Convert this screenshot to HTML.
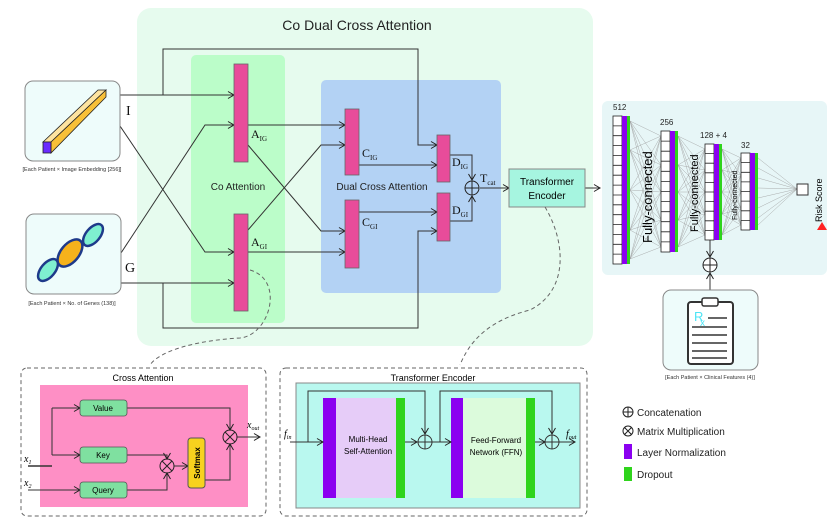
<!DOCTYPE html>
<html><head><meta charset="utf-8"><style>
html,body{margin:0;padding:0;background:#fff}
svg{display:block;font-family:"Liberation Sans",sans-serif}
</style></head><body>
<svg width="830" height="523" viewBox="0 0 830 523" xmlns="http://www.w3.org/2000/svg">
<defs>
<marker id="a" markerWidth="8" markerHeight="8" refX="7" refY="4" orient="auto" markerUnits="userSpaceOnUse"><path d="M1,0.5 L7,4 L1,7.5" fill="none" stroke="#222" stroke-width="1"/></marker>
</defs>
<rect x="137" y="8" width="456" height="338" rx="14" fill="#e6fbee"/>
<text x="357" y="30" font-size="14" text-anchor="middle" fill="#222">Co Dual Cross Attention</text>
<rect x="191" y="55" width="94" height="268" rx="5" fill="#bbfdc9"/>
<rect x="321" y="80" width="180" height="213" rx="5" fill="#b3d2f4"/>
<text x="238" y="190" font-size="10" text-anchor="middle" fill="#222">Co Attention</text>
<text x="382" y="190" font-size="10" text-anchor="middle" fill="#222">Dual Cross Attention</text>
<g fill="none" stroke="#333" stroke-width="1">
<path d="M163 95 V49 H418 V145 H437" marker-end="url(#a)"/>
<path d="M120 95 H234" marker-end="url(#a)"/>
<path d="M120 126 L205 252 H234" marker-end="url(#a)"/>
<path d="M121 253 L205 125 H234" marker-end="url(#a)"/>
<path d="M121 283 H234" marker-end="url(#a)"/>
<path d="M163 283 V328 H418 V231 H437" marker-end="url(#a)"/>
<path d="M248 125 H345" marker-end="url(#a)"/>
<path d="M248 145 L321 231 H345" marker-end="url(#a)"/>
<path d="M248 230 L321 145 H345" marker-end="url(#a)"/>
<path d="M248 252 H345" marker-end="url(#a)"/>
<path d="M359 165 H437" marker-end="url(#a)"/>
<path d="M359 212 H437" marker-end="url(#a)"/>
<path d="M450 155 H472 V180" marker-end="url(#a)"/>
<path d="M450 221 H472 V196" marker-end="url(#a)"/>
<path d="M480 188 H509" marker-end="url(#a)"/>
<path d="M585 188 H600" marker-end="url(#a)"/>
</g>
<g fill="#e84c9a" stroke="#666" stroke-width="0.8">
<rect x="234" y="64" width="14" height="98"/><rect x="234" y="214" width="14" height="97"/>
<rect x="345" y="109" width="14" height="66"/><rect x="345" y="200" width="14" height="68"/>
<rect x="437" y="135" width="13" height="47"/><rect x="437" y="193" width="13" height="48"/>
</g>
<g font-family="Liberation Serif,serif" font-size="12" fill="#111">
<text x="251" y="138">A<tspan font-size="7" dy="3">IG</tspan></text>
<text x="251" y="246">A<tspan font-size="7" dy="3">GI</tspan></text>
<text x="362" y="157">C<tspan font-size="7" dy="3">IG</tspan></text>
<text x="362" y="226">C<tspan font-size="7" dy="3">GI</tspan></text>
<text x="452" y="166">D<tspan font-size="7" dy="3">IG</tspan></text>
<text x="452" y="214">D<tspan font-size="7" dy="3">GI</tspan></text>
<text x="480" y="182">T<tspan font-size="7" dy="3">cat</tspan></text>
<text x="126" y="115" font-size="14">I</text>
<text x="125" y="272" font-size="14">G</text>
</g>
<circle cx="472" cy="188" r="7" fill="none" stroke="#222"/><path d="M465 188H479M472 181V195" stroke="#222"/>
<rect x="509" y="169" width="76" height="38" fill="#a6f5e0" stroke="#888"/>
<text x="547" y="185" font-size="10" text-anchor="middle">Transformer</text>
<text x="547" y="199" font-size="10" text-anchor="middle">Encoder</text>
<rect x="25" y="81" width="95" height="80" rx="8" fill="#eefcfb" stroke="#888"/>
<polygon points="43,142 98,90 106,90 51,142" fill="#fde3a0" stroke="#222" stroke-width="0.8"/>
<polygon points="51,142 106,90 106,97 51,153" fill="#f8c038" stroke="#222" stroke-width="0.8"/>
<rect x="43" y="142" width="8" height="11" fill="#6a2bff" stroke="#222" stroke-width="0.8"/>
<text x="72" y="171" font-size="5.5" text-anchor="middle" fill="#333">[Each Patient × Image Embedding [256]]</text>
<rect x="26" y="214" width="95" height="80" rx="8" fill="#eefcfb" stroke="#888"/>
<ellipse cx="70" cy="253" rx="9" ry="16" transform="rotate(40 70 253)" fill="#f6b21b" stroke="#1e3a8a" stroke-width="2.5"/>
<ellipse cx="48" cy="270" rx="7" ry="13" transform="rotate(40 48 270)" fill="#7ff0d0" stroke="#1e3a8a" stroke-width="2.5"/>
<ellipse cx="93" cy="235" rx="7" ry="13" transform="rotate(40 93 235)" fill="#7ff0d0" stroke="#1e3a8a" stroke-width="2.5"/>
<text x="72" y="305" font-size="5.5" text-anchor="middle" fill="#333">[Each Patient × No. of Genes (138)]</text>
<path d="M250 270 C285 280,270 335,240 338 C200 340,160 350,150 365" fill="none" stroke="#666" stroke-dasharray="4,3"/>
<path d="M545 207 C565 240,570 290,530 310 C490 320,470 340,460 365" fill="none" stroke="#666" stroke-dasharray="4,3"/>
<!-- right panel -->
<rect x="602" y="101" width="225" height="174" rx="6" fill="#e7f6f7"/>
<g fill="none" stroke="#333" stroke-width="1">
<path d="M710 240 V257" marker-end="url(#a)"/>
<path d="M710 298 V273" marker-end="url(#a)"/>
</g>
<g stroke="#999" stroke-width="0.4" fill="none">
<path d="M630 121L661 136M630 121L661 165M630 121L661 192M630 121L661 220M630 121L661 247M630 150L661 136M630 150L661 165M630 150L661 192M630 150L661 220M630 150L661 247M630 190L661 136M630 190L661 165M630 190L661 192M630 190L661 220M630 190L661 247M630 230L661 136M630 230L661 165M630 230L661 192M630 230L661 220M630 230L661 247M630 259L661 136M630 259L661 165M630 259L661 192M630 259L661 220M630 259L661 247"/>
<path d="M678 136L705 149M678 136L705 170M678 136L705 192M678 136L705 214M678 136L705 235M678 165L705 149M678 165L705 170M678 165L705 192M678 165L705 214M678 165L705 235M678 192L705 149M678 192L705 170M678 192L705 192M678 192L705 214M678 192L705 235M678 220L705 149M678 220L705 170M678 220L705 192M678 220L705 214M678 220L705 235M678 247L705 149M678 247L705 170M678 247L705 192M678 247L705 214M678 247L705 235"/>
<path d="M722 149L741 158M722 149L741 175M722 149L741 192M722 149L741 209M722 149L741 225M722 170L741 158M722 170L741 175M722 170L741 192M722 170L741 209M722 170L741 225M722 192L741 158M722 192L741 175M722 192L741 192M722 192L741 209M722 192L741 225M722 214L741 158M722 214L741 175M722 214L741 192M722 214L741 209M722 214L741 225M722 235L741 158M722 235L741 175M722 235L741 192M722 235L741 209M722 235L741 225"/>
<path d="M758 158L797 189M758 168L797 189M758 178L797 189M758 188L797 189M758 198L797 189M758 208L797 189M758 218L797 189M758 225L797 189"/>
</g>
<g stroke="#222" stroke-width="0.8">
<rect x="613" y="116" width="9" height="148" fill="#fff"/>
<path d="M613 125.9h9M613 135.7h9M613 145.6h9M613 155.5h9M613 165.3h9M613 175.2h9M613 185.1h9M613 195h9M613 204.8h9M613 214.7h9M613 224.5h9M613 234.4h9M613 244.3h9M613 254.1h9"/>
<rect x="661" y="131" width="9" height="121" fill="#fff"/>
<path d="M661 141.1h9M661 151.2h9M661 161.2h9M661 171.3h9M661 181.4h9M661 191.5h9M661 201.6h9M661 211.7h9M661 221.7h9M661 231.8h9M661 241.9h9"/>
<rect x="705" y="144" width="9" height="96" fill="#fff"/>
<path d="M705 153.6h9M705 163.2h9M705 172.8h9M705 182.4h9M705 192h9M705 201.6h9M705 211.2h9M705 220.8h9M705 230.4h9"/>
<rect x="741" y="153" width="9" height="77" fill="#fff"/>
<path d="M741 162.6h9M741 172.3h9M741 181.9h9M741 191.5h9M741 201.1h9M741 210.8h9M741 220.4h9"/>
</g>
<g fill="#8b00f0"><rect x="622" y="116" width="5" height="148"/><rect x="670" y="131" width="5" height="121"/><rect x="714" y="144" width="5" height="96"/><rect x="750" y="153" width="5" height="77"/></g>
<g fill="#2fd41c"><rect x="627" y="116" width="3" height="148"/><rect x="675" y="131" width="3" height="121"/><rect x="719" y="144" width="3" height="96"/><rect x="755" y="153" width="3" height="77"/></g>
<rect x="797" y="184" width="11" height="11" fill="#fff" stroke="#333"/>
<text transform="translate(822,222) rotate(-90)" font-size="9">Risk Score</text>
<polygon points="817,230 822,222 827,230" fill="#f22"/>
<g font-size="8" fill="#222"><text x="613" y="110">512</text><text x="660" y="125">256</text><text x="700" y="138">128 + 4</text><text x="741" y="148">32</text></g>
<text transform="translate(652,243) rotate(-90)" font-size="13">Fully-connected</text>
<text transform="translate(698,232) rotate(-90)" font-size="11">Fully-connected</text>
<text transform="translate(737,220) rotate(-90)" font-size="7">Fully-connected</text>
<circle cx="710" cy="265" r="7" fill="#fff" stroke="#222"/><path d="M703 265H717M710 258V272" stroke="#222"/>
<rect x="663" y="290" width="95" height="80" rx="8" fill="#eefcfb" stroke="#888"/>
<rect x="688" y="302" width="45" height="62" rx="3" fill="#fff" stroke="#333" stroke-width="2"/>
<rect x="702" y="298" width="16" height="8" rx="2" fill="#fff" stroke="#333" stroke-width="1.5"/>
<text x="694" y="321" font-size="13" fill="#4ee4f5">R</text><text x="700" y="326" font-size="10" fill="#4ee4f5">x</text>
<g stroke="#333" stroke-width="1.5"><path d="M708 318H727M692 327H727M692 335H727M692 343H727M692 351H727M692 358H727"/></g>
<text x="710" y="379" font-size="5.5" text-anchor="middle" fill="#333">[Each Patient × Clinical Features (4)]</text>
<!-- cross attention -->
<rect x="21" y="368" width="245" height="148" rx="6" fill="none" stroke="#666" stroke-dasharray="4,3"/>
<text x="143" y="381" font-size="9" text-anchor="middle">Cross Attention</text>
<rect x="40" y="385" width="208" height="122" fill="#fe8fc5"/>
<g fill="none" stroke="#333" stroke-width="1">
<path d="M28 466 H52" stroke-width="1.5"/>
<path d="M52 408 V455"/>
<path d="M52 408 H80" marker-end="url(#a)"/>
<path d="M52 455 H80" marker-end="url(#a)"/>
<path d="M28 490 H80" marker-end="url(#a)"/>
<path d="M127 408 H230 V430" marker-end="url(#a)"/>
<path d="M127 455 H167 V459" marker-end="url(#a)"/>
<path d="M127 490 H167 V473" marker-end="url(#a)"/>
<path d="M174 466 H188" marker-end="url(#a)"/>
<path d="M205 480 H230 V444" marker-end="url(#a)"/>
<path d="M237 437 H260" marker-end="url(#a)"/>
</g>
<g fill="#7fe0a0" stroke="#555" stroke-width="0.8"><rect x="80" y="400" width="47" height="16" rx="3"/><rect x="80" y="447" width="47" height="16" rx="3"/><rect x="80" y="482" width="47" height="16" rx="3"/></g>
<g font-size="8" text-anchor="middle"><text x="103" y="411">Value</text><text x="103" y="458">Key</text><text x="103" y="493">Query</text></g>
<rect x="188" y="438" width="17" height="50" rx="3" fill="#f7d21e" stroke="#555"/>
<text transform="translate(200,463) rotate(-90)" font-size="8" text-anchor="middle" font-weight="bold">Softmax</text>
<g fill="none" stroke="#222"><circle cx="167" cy="466" r="7"/><circle cx="230" cy="437" r="7"/>
<path d="M162 461L172 471M172 461L162 471M225 432L235 442M235 432L225 442"/></g>
<g font-family="Liberation Serif,serif" font-style="italic" font-size="10"><text x="24" y="462">x<tspan font-size="6" dy="2">1</tspan></text><text x="24" y="486">x<tspan font-size="6" dy="2">2</tspan></text><text x="247" y="428">x<tspan font-size="6" dy="2">out</tspan></text></g>
<!-- transformer encoder -->
<rect x="280" y="368" width="307" height="148" rx="6" fill="none" stroke="#666" stroke-dasharray="4,3"/>
<text x="433" y="381" font-size="9" text-anchor="middle">Transformer Encoder</text>
<rect x="296" y="383" width="284" height="125" fill="#b9f8ef" stroke="#888"/>
<rect x="323" y="398" width="13" height="100" fill="#8b00f0"/><rect x="336" y="398" width="60" height="100" fill="#e6ccf8"/><rect x="396" y="398" width="9" height="100" fill="#2fd41c"/>
<rect x="451" y="398" width="12" height="100" fill="#8b00f0"/><rect x="463" y="398" width="63" height="100" fill="#dcfbdc"/><rect x="526" y="398" width="9" height="100" fill="#2fd41c"/>
<g font-size="8" text-anchor="middle"><text x="368" y="442">Multi-Head</text><text x="368" y="454">Self-Attention</text><text x="496" y="443">Feed-Forward</text><text x="496" y="455">Network (FFN)</text></g>
<g fill="none" stroke="#333">
<path d="M290 442 H323" marker-end="url(#a)"/>
<path d="M308 442 V391 H425 V434" marker-end="url(#a)"/>
<path d="M405 442 H417" marker-end="url(#a)"/>
<path d="M432 442 H451" marker-end="url(#a)"/>
<path d="M440 442 V391 H552 V434" marker-end="url(#a)"/>
<path d="M535 442 H545" marker-end="url(#a)"/>
<path d="M559 442 H575" marker-end="url(#a)"/>
<circle cx="425" cy="442" r="7"/><path d="M418 442H432M425 435V449"/>
<circle cx="552" cy="442" r="7"/><path d="M545 442H559M552 435V449"/>
</g>
<g font-family="Liberation Serif,serif" font-style="italic" font-size="10"><text x="284" y="437">f<tspan font-size="6" dy="2">in</tspan></text><text x="566" y="437">f<tspan font-size="6" dy="2">out</tspan></text></g>
<!-- legend -->
<g font-size="10" fill="#222">
<circle cx="628" cy="412" r="5" fill="none" stroke="#222"/><path d="M623 412H633M628 407V417" stroke="#222"/>
<text x="637" y="416">Concatenation</text>
<circle cx="628" cy="431" r="5" fill="none" stroke="#222"/><path d="M624.5 427.5L631.5 434.5M631.5 427.5L624.5 434.5" stroke="#222"/>
<text x="637" y="435">Matrix Multiplication</text>
<rect x="624" y="444" width="8" height="15" fill="#8b00f0"/><text x="637" y="456">Layer Normalization</text>
<rect x="624" y="467" width="8" height="14" fill="#2fd41c"/><text x="637" y="478">Dropout</text>
</g>
</svg>
</body></html>
